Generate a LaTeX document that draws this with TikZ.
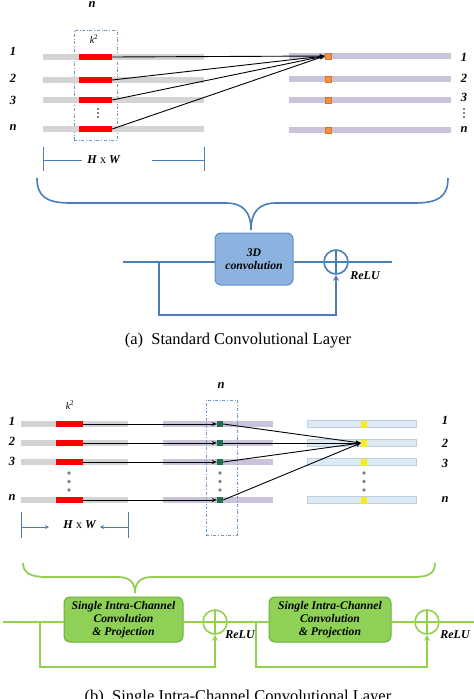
\documentclass[tikz,border=0pt]{standalone}
\usepackage{fontspec}
\setmainfont{Liberation Serif}
\usetikzlibrary{arrows.meta}
\definecolor{sblue}{HTML}{4A7EBB}
\definecolor{boxblue}{HTML}{8CB2E0}
\definecolor{boxblueb}{HTML}{5F8FCB}
\definecolor{lgreen}{HTML}{92D050}
\definecolor{boxgreen}{HTML}{8FD157}
\definecolor{boxgreenb}{HTML}{6CAF3C}
\definecolor{lgray}{HTML}{D4D4D4}
\definecolor{lav}{HTML}{CBC3DA}
\definecolor{orng}{HTML}{F2913F}
\definecolor{orngb}{HTML}{D8742A}
\definecolor{dgreen}{HTML}{1F6F4F}
\definecolor{lblue}{HTML}{DEEAF3}
\definecolor{lblueb}{HTML}{BCD0E4}
\definecolor{yel}{HTML}{F6EE1C}
\tikzset{
  lab/.style={font=\bfseries\itshape\fontsize{12.5}{13}\selectfont, inner sep=0pt},
  relulab/.style={font=\bfseries\itshape\fontsize{12}{13}\selectfont, inner sep=0pt},
  bar/.style={draw=none, inner sep=0pt, minimum height=6},
  sq/.style={inner sep=0pt, minimum width=6, minimum height=6},
  conn/.style={black, line width=0.9, -{Stealth[length=5,width=4]}},
  winbox/.style={draw=sblue!80, dash dot, line width=0.8, inner sep=0pt},
  gdot/.style={circle, fill=gray, inner sep=0pt, minimum size=3.6},
  bdot/.style={circle, fill=black, inner sep=0pt, minimum size=1.8},
  bline/.style={sblue, line width=1.6},
  gline/.style={lgreen, line width=1.8},
  cplus/.style={circle, draw, line width=1.6, minimum size=24, inner sep=0pt,
    path picture={\draw[line width=1.4] (path picture bounding box.north) -- (path picture bounding box.south)
      (path picture bounding box.west) -- (path picture bounding box.east);}},
  opbox/.style={rounded corners=6, inner sep=1pt, align=center,
    font=\bfseries\itshape\fontsize{11.7}{13}\selectfont},
  captxt/.style={font=\fontsize{16.5}{18}\selectfont, inner sep=0pt},
  hwtxt/.style={inner sep=1pt, font=\fontsize{12}{13}\selectfont},
}
\begin{document}
\begin{tikzpicture}[x=1pt,y=-1pt]
\useasboundingbox (0,0) rectangle (474,699);
% ================= (a) =================
\node[lab] (nA) at (92,5) {n};
\node[winbox, minimum width=43, minimum height=110] (winA) at (95.5,85) {};
\node[inner sep=0pt, font=\fontsize{10}{11}\selectfont] (kA) at (94,39) {{\itshape k}\textsuperscript{2}};
% left labels
\node[lab] (la1) at (13,51) {1};
\node[lab] (la2) at (13,78) {2};
\node[lab] (la3) at (13,100) {3};
\node[lab] (la4) at (13,128) {n};
% gray bars
\foreach \i/\y in {1/57,2/80,3/100,4/129}{
  \node[bar, fill=lgray, minimum width=161] (ga\i) at (123.5,\y) {};
  \node[bar, fill=red, minimum width=33] (ra\i) at (95.5,\y) {};
}
\foreach \y/\k in {109/1,113/2,117/3}{ \node[bdot] (vl\k) at (98,\y) {}; }
% purple bars
\foreach \i/\y in {1/56,2/79,3/100,4/130}{
  \node[bar, fill=lav, minimum width=162] (pa\i) at (370,\y) {};
  \node[sq, fill=orng, draw=orngb, line width=0.5] (oa\i) at (328,\y) {};
}
\node[lab] (lr1) at (464,57) {1};
\node[lab] (lr2) at (464,78) {2};
\node[lab] (lr3) at (464,97) {3};
\foreach \y/\k in {109/1,113/2,117/3}{ \node[bdot] (vr\k) at (464,\y) {}; }
\node[lab] (lr4) at (464,130) {n};
\foreach \i in {1,2,3,4}{ \draw[conn] (ra\i.east) -- (oa1.west); }
% H x W (a)
\node[hwtxt] (hwA) at (104,160) {\textbf{\textit{H}} x \textbf{\textit{W}}};
\coordinate (hwAl) at (43,160); \coordinate (hwAr) at (204,160);
\draw[sblue, line width=1] (43,147) -- (43,171) (204,147) -- (204,171);
\draw[sblue, line width=1] (hwAl) -- (82,160);
\draw[sblue, line width=1] (152,160) -- (hwAr);
% brace (a)
\draw[bline] (37,178) .. controls (37,196) and (46,203) .. (70,203) -- (226,203)
  .. controls (244,203) and (251,213) .. (251,230)
  .. controls (251,213) and (258,203) .. (276,203) -- (415,203)
  .. controls (439,203) and (448,196) .. (448,178);
% block (a)
\coordinate (inA) at (123,262);
\coordinate (brA) at (159,262);
\coordinate (outA) at (392,262);
\node[opbox, fill=boxblue, draw=boxblueb, line width=1, minimum width=78, minimum height=52] (conv) at (254,259) {3D\\convolution};
\node[cplus, draw=sblue] (cpA) at (336,262) {};
\draw[bline] (inA) -- (conv.west |- inA);
\draw[bline] (conv.east |- cpA) -- (cpA.west);
\draw[bline] (cpA.east) -- (outA);
\draw[bline, -{Stealth[length=6,width=6]}] (brA) -- (159,315) -| (cpA.south);
\node[relulab] (reluA) at (365,276) {ReLU};
\node[captxt] (capA) at (238,341) {(a)\ \ Standard Convolutional Layer};
% ================= (b) =================
\node[lab] (nB) at (221,386) {n};
\node[inner sep=0pt, font=\fontsize{10}{11}\selectfont] (kB) at (70,405) {{\itshape k}\textsuperscript{2}};
\node[lab] (lb1) at (12,421) {1};
\node[lab] (lb2) at (12,441) {2};
\node[lab] (lb3) at (12,461) {3};
\node[lab] (lb4) at (12,498) {n};
\foreach \i/\y in {1/424,2/443,3/462,4/500}{
  \node[bar, fill=lgray, minimum width=107] (gb\i) at (74.5,\y) {};
  \node[bar, fill=red, minimum width=27] (rb\i) at (69.5,\y) {};
  \node[bar, fill=lav, minimum width=110] (pb\i) at (218,\y) {};
  \node[bar, fill=lblue, draw=lblueb, line width=0.5, minimum width=109, minimum height=7] (bb\i) at (361.5,\y) {};
  \node[sq, fill=yel, minimum height=7] (yb\i) at (364,\y) {};
}
\node[winbox, minimum width=31, minimum height=135] (winB) at (221.5,467.5) {};
\foreach \i/\y in {1/424,2/443,3/462,4/500}{
  \node[sq, fill=dgreen] (sb\i) at (220,\y) {};
  \draw[conn] (rb\i.east) -- (sb\i.west);
  \draw[conn] (sb\i.east) -- (yb2.west);
}
\foreach \x/\n in {69/l,220/m,364/r}{
  \foreach \y/\k in {473/1,481.5/2,490/3}{
    \node[gdot] (d\n\k) at (\x,\y) {};
  }
}
\node[lab] (lc1) at (445,420) {1};
\node[lab] (lc2) at (445,443) {2};
\node[lab] (lc3) at (445,463) {3};
\node[lab] (lc4) at (445,500) {n};
% H x W (b)
\node[hwtxt] (hwB) at (80,525) {\textbf{\textit{H}} x \textbf{\textit{W}}};
\coordinate (hwBl) at (21,527); \coordinate (hwBr) at (128,527);
\draw[sblue, line width=1] (21,512) -- (21,538) (128,512) -- (128,538);
\draw[sblue, line width=1, -{Stealth[length=4,width=4]}] (hwBl) -- (49,527);
\draw[sblue, line width=1, -{Stealth[length=4,width=4]}] (hwBr) -- (100,527);
% brace (b)
\draw[gline] (23,563) .. controls (23,573) and (31,577) .. (46,577) -- (118,577)
  .. controls (130,577) and (135,583) .. (135,593)
  .. controls (135,583) and (140,577) .. (152,577) -- (414,577)
  .. controls (429,577) and (435,573) .. (435,563);
% blocks (b)
\coordinate (inB) at (3,622);
\coordinate (br1) at (40,622);
\coordinate (br2) at (256,622);
\coordinate (outB) at (474,622);
\node[opbox, fill=boxgreen, draw=boxgreenb, line width=1, minimum width=119, minimum height=45] (sc1) at (123.5,619.5) {Single Intra-Channel\\Convolution\\\& Projection};
\node[opbox, fill=boxgreen, draw=boxgreenb, line width=1, minimum width=122, minimum height=45] (sc2) at (330,619.5) {Single Intra-Channel\\Convolution\\\& Projection};
\node[cplus, draw=lgreen] (cp1) at (215,622) {};
\node[cplus, draw=lgreen] (cp2) at (427,622) {};
\draw[gline] (inB) -- (sc1.west |- inB);
\draw[gline] (sc1.east |- cp1) -- (cp1.west);
\draw[gline] (cp1.east) -- (sc2.west |- cp1);
\draw[gline] (sc2.east |- cp2) -- (cp2.west);
\draw[gline] (cp2.east) -- (outB);
\draw[gline, -{Stealth[length=6,width=6]}] (br1) -- (40,667) -| (cp1.south);
\draw[gline, -{Stealth[length=6,width=6]}] (br2) -- (256,667) -| (cp2.south);
\node[relulab] (relu1) at (240,635) {ReLU};
\node[relulab] (relu2) at (455,635) {ReLU};
\node[captxt] (capB) at (238,698) {(b)\ \ Single Intra-Channel Convolutional Layer};
\end{tikzpicture}
\end{document}
